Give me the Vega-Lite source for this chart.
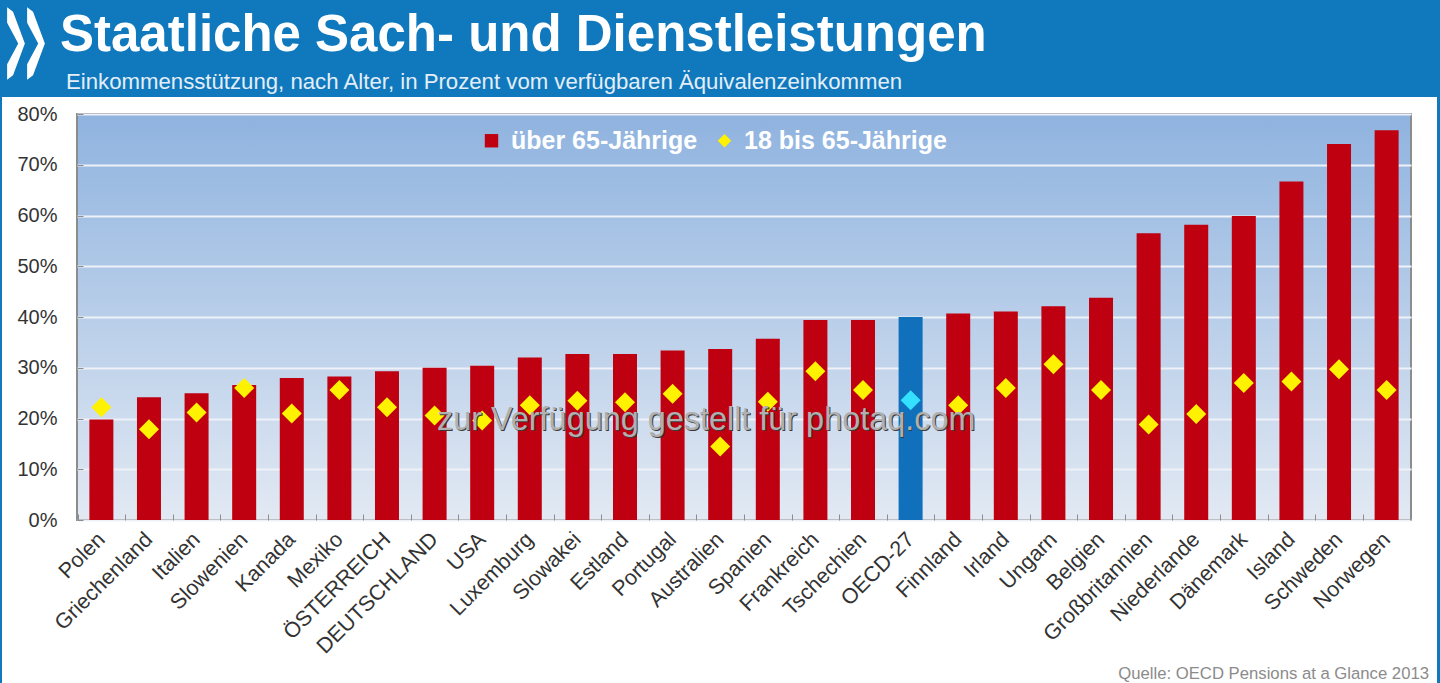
{
  "$schema": "https://vega.github.io/schema/vega-lite/v6.json",
  "padding": 0,
  "background": "white",
  "spacing": 0,
  "bounds": "flush",
  "config": {"font": "Liberation Sans"},
  "datasets": {
    "renten": [
      {"land": "Polen", "gruppe": "über 65-Jährige", "wert": 19.8},
      {"land": "Griechenland", "gruppe": "über 65-Jährige", "wert": 24.2},
      {"land": "Italien", "gruppe": "über 65-Jährige", "wert": 25},
      {"land": "Slowenien", "gruppe": "über 65-Jährige", "wert": 26.6},
      {"land": "Kanada", "gruppe": "über 65-Jährige", "wert": 28},
      {"land": "Mexiko", "gruppe": "über 65-Jährige", "wert": 28.3},
      {"land": "ÖSTERREICH", "gruppe": "über 65-Jährige", "wert": 29.3},
      {"land": "DEUTSCHLAND", "gruppe": "über 65-Jährige", "wert": 30},
      {"land": "USA", "gruppe": "über 65-Jährige", "wert": 30.4},
      {"land": "Luxemburg", "gruppe": "über 65-Jährige", "wert": 32},
      {"land": "Slowakei", "gruppe": "über 65-Jährige", "wert": 32.7},
      {"land": "Estland", "gruppe": "über 65-Jährige", "wert": 32.7},
      {"land": "Portugal", "gruppe": "über 65-Jährige", "wert": 33.4},
      {"land": "Australien", "gruppe": "über 65-Jährige", "wert": 33.7},
      {"land": "Spanien", "gruppe": "über 65-Jährige", "wert": 35.7},
      {"land": "Frankreich", "gruppe": "über 65-Jährige", "wert": 39.4},
      {"land": "Tschechien", "gruppe": "über 65-Jährige", "wert": 39.4},
      {"land": "OECD-27", "gruppe": "über 65-Jährige", "wert": 40},
      {"land": "Finnland", "gruppe": "über 65-Jährige", "wert": 40.7},
      {"land": "Irland", "gruppe": "über 65-Jährige", "wert": 41.1},
      {"land": "Ungarn", "gruppe": "über 65-Jährige", "wert": 42.1},
      {"land": "Belgien", "gruppe": "über 65-Jährige", "wert": 43.8},
      {"land": "Großbritannien", "gruppe": "über 65-Jährige", "wert": 56.5},
      {"land": "Niederlande", "gruppe": "über 65-Jährige", "wert": 58.2},
      {"land": "Dänemark", "gruppe": "über 65-Jährige", "wert": 59.9},
      {"land": "Island", "gruppe": "über 65-Jährige", "wert": 66.7},
      {"land": "Schweden", "gruppe": "über 65-Jährige", "wert": 74.1},
      {"land": "Norwegen", "gruppe": "über 65-Jährige", "wert": 76.8},
      {"land": "Polen", "gruppe": "18 bis 65-Jährige", "wert": 22.2},
      {"land": "Griechenland", "gruppe": "18 bis 65-Jährige", "wert": 17.9},
      {"land": "Italien", "gruppe": "18 bis 65-Jährige", "wert": 21.2},
      {"land": "Slowenien", "gruppe": "18 bis 65-Jährige", "wert": 26},
      {"land": "Kanada", "gruppe": "18 bis 65-Jährige", "wert": 21},
      {"land": "Mexiko", "gruppe": "18 bis 65-Jährige", "wert": 25.6},
      {"land": "ÖSTERREICH", "gruppe": "18 bis 65-Jährige", "wert": 22.2},
      {"land": "DEUTSCHLAND", "gruppe": "18 bis 65-Jährige", "wert": 20.6},
      {"land": "USA", "gruppe": "18 bis 65-Jährige", "wert": 19.6},
      {"land": "Luxemburg", "gruppe": "18 bis 65-Jährige", "wert": 22.6},
      {"land": "Slowakei", "gruppe": "18 bis 65-Jährige", "wert": 23.5},
      {"land": "Estland", "gruppe": "18 bis 65-Jährige", "wert": 23.2},
      {"land": "Portugal", "gruppe": "18 bis 65-Jährige", "wert": 24.9},
      {"land": "Australien", "gruppe": "18 bis 65-Jährige", "wert": 14.5},
      {"land": "Spanien", "gruppe": "18 bis 65-Jährige", "wert": 23.3},
      {"land": "Frankreich", "gruppe": "18 bis 65-Jährige", "wert": 29.3},
      {"land": "Tschechien", "gruppe": "18 bis 65-Jährige", "wert": 25.6},
      {"land": "OECD-27", "gruppe": "18 bis 65-Jährige", "wert": 23.6},
      {"land": "Finnland", "gruppe": "18 bis 65-Jährige", "wert": 22.6},
      {"land": "Irland", "gruppe": "18 bis 65-Jährige", "wert": 26},
      {"land": "Ungarn", "gruppe": "18 bis 65-Jährige", "wert": 30.7},
      {"land": "Belgien", "gruppe": "18 bis 65-Jährige", "wert": 25.6},
      {"land": "Großbritannien", "gruppe": "18 bis 65-Jährige", "wert": 18.8},
      {"land": "Niederlande", "gruppe": "18 bis 65-Jährige", "wert": 20.9},
      {"land": "Dänemark", "gruppe": "18 bis 65-Jährige", "wert": 27},
      {"land": "Island", "gruppe": "18 bis 65-Jährige", "wert": 27.3},
      {"land": "Schweden", "gruppe": "18 bis 65-Jährige", "wert": 29.7},
      {"land": "Norwegen", "gruppe": "18 bis 65-Jährige", "wert": 25.6}
    ]
  },
  "vconcat": [
    {
      "width": 1440,
      "height": 114,
      "view": {"fill": "#1079bd", "stroke": null},
      "data": {"values": [{"logo": 1}]},
      "encoding": {
        "x": {"type": "quantitative", "scale": {"domain": [0, 1440]}, "axis": null},
        "y": {"type": "quantitative", "scale": {"domain": [114, 0]}, "axis": null}
      },
      "layer": [
        {
          "mark": {"type": "rect", "color": "white"},
          "encoding": {
            "x": {"datum": 2},
            "x2": {"datum": 1437},
            "y": {"datum": 97},
            "y2": {"datum": 114}
          }
        },
        {
          "mark": {
            "type": "point",
            "filled": true,
            "opacity": 1,
            "fill": "white",
            "size": 21904,
            "shape": "M -0.12 -0.49 L -0.12 -0.28 L 0.03 0 L -0.12 0.28 L -0.12 0.49 L -0.04 0.43 L 0.12 0 L -0.04 -0.43 Z"
          },
          "encoding": {"x": {"datum": 16}, "y": {"datum": 43.5}}
        },
        {
          "mark": {
            "type": "point",
            "filled": true,
            "opacity": 1,
            "fill": "white",
            "size": 21904,
            "shape": "M -0.12 -0.49 L -0.12 -0.28 L 0.03 0 L -0.12 0.28 L -0.12 0.49 L -0.04 0.43 L 0.12 0 L -0.04 -0.43 Z"
          },
          "encoding": {"x": {"datum": 36}, "y": {"datum": 43.5}}
        },
        {
          "mark": {
            "type": "text",
            "align": "left",
            "baseline": "alphabetic",
            "fontSize": 51,
            "fontWeight": "bold",
            "color": "white",
            "text": "Staatliche Sach- und Dienstleistungen"
          },
          "encoding": {"x": {"datum": 60}, "y": {"datum": 51}}
        },
        {
          "mark": {
            "type": "text",
            "align": "left",
            "baseline": "middle",
            "fontSize": 22.2,
            "color": "#e3eef8",
            "text": "Einkommensstützung, nach Alter, in Prozent vom verfügbaren Äquivalenzeinkommen"
          },
          "encoding": {"x": {"datum": 66}, "y": {"datum": 82}}
        }
      ]
    },
    {
      "spacing": 0,
      "hconcat": [
        {
          "width": 2,
          "height": 569,
          "view": {"fill": "#1079bd", "stroke": null},
          "data": {"values": []},
          "mark": "point"
        },
        {
          "width": 1334,
          "height": 406,
          "view": {
            "stroke": "#8c8c8c",
            "strokeWidth": 2,
            "fill": {
              "gradient": "linear",
              "x1": 0,
              "y1": 0,
              "x2": 0,
              "y2": 1,
              "stops": [
                {"offset": 0, "color": "#8fb3df"},
                {"offset": 1, "color": "#e2e9f3"}
              ]
            }
          },
          "title": {
            "text": "Quelle: OECD Pensions at a Glance 2013",
            "orient": "bottom",
            "anchor": "end",
            "frame": "group",
            "dx": 18,
            "offset": 9,
            "fontSize": 16.7,
            "fontWeight": "normal",
            "color": "#8b8b8b"
          },
          "data": {"name": "renten"},
          "encoding": {
            "x": {
              "field": "land",
              "type": "nominal",
              "sort": null,
              "title": null,
              "scale": {"paddingInner": 0, "paddingOuter": 0.012},
              "axis": {
                "domain": false,
                "tickBand": "extent",
                "tickSize": -6,
                "tickColor": "#8c8c8c",
                "labelAngle": -45,
                "labelAlign": "right",
                "labelBaseline": "middle",
                "labelFontSize": 21.5,
                "labelColor": "#333333",
                "labelPadding": 22,
                "labelOverlap": false,
                "labelBound": false
              }
            },
            "y": {
              "field": "wert",
              "type": "quantitative",
              "title": null,
              "scale": {"domain": [0, 80]},
              "axis": {
                "values": [0, 10, 20, 30, 40, 50, 60, 70, 80],
                "labelExpr": "datum.value + '%'",
                "domain": false,
                "grid": true,
                "gridColor": "#eef2f8",
                "gridWidth": 2,
                "tickSize": -6,
                "tickColor": "#8c8c8c",
                "labelFontSize": 20,
                "labelColor": "#333333",
                "labelPadding": 26,
                "minExtent": 74,
                "maxExtent": 74
              }
            }
          },
          "layer": [
            {
              "transform": [{"filter": "datum.gruppe == 'über 65-Jährige'"}],
              "mark": {"type": "bar", "size": 24},
              "encoding": {
                "fill": {
                  "condition": {"test": "datum.land == 'OECD-27'", "value": "#1070bb"},
                  "value": "#bf0010"
                }
              }
            },
            {
              "mark": {"type": "point", "filled": true, "size": 400},
              "encoding": {
                "shape": {
                  "field": "gruppe",
                  "type": "nominal",
                  "sort": null,
                  "scale": {
                    "domain": ["über 65-Jährige", "18 bis 65-Jährige"],
                    "range": ["square", "diamond"]
                  },
                  "legend": {
                    "title": null,
                    "orient": "none",
                    "legendX": 479,
                    "legendY": 128,
                    "direction": "horizontal",
                    "columns": 2,
                    "columnPadding": 14,
                    "symbolSize": 180,
                    "symbolOpacity": 1,
                    "labelColor": "white",
                    "labelFontSize": 25,
                    "labelFontWeight": "bold",
                    "labelLimit": 400,
                    "labelOffset": 7
                  }
                },
                "color": {
                  "condition": {"test": "datum.land == 'OECD-27'", "value": "#33e0ff"},
                  "field": "gruppe",
                  "type": "nominal",
                  "sort": null,
                  "scale": {
                    "domain": ["über 65-Jährige", "18 bis 65-Jährige"],
                    "range": ["#bf0010", "#fff200"]
                  },
                  "legend": {
                    "title": null,
                    "orient": "none",
                    "legendX": 479,
                    "legendY": 128,
                    "direction": "horizontal",
                    "columns": 2,
                    "columnPadding": 14,
                    "symbolSize": 180,
                    "symbolOpacity": 1,
                    "labelColor": "white",
                    "labelFontSize": 25,
                    "labelFontWeight": "bold",
                    "labelLimit": 400,
                    "labelOffset": 7
                  }
                },
                "opacity": {
                  "condition": {"test": "datum.gruppe == 'über 65-Jährige'", "value": 0},
                  "value": 1
                }
              }
            },
            {
              "data": {"values": [{"land": "Australien", "wert": 19.6, "hinweis": "zur Verfügung gestellt für photaq.com"}]},
              "mark": {"type": "text", "fontSize": 32.4, "dx": -13, "color": "#3a3a3a"},
              "encoding": {"text": {"field": "hinweis"}}
            },
            {
              "data": {"values": [{"land": "Australien", "wert": 19.6, "hinweis": "zur Verfügung gestellt für photaq.com"}]},
              "mark": {"type": "text", "fontSize": 32.4, "dx": -14, "dy": -1, "color": "#b0b0b0"},
              "encoding": {"text": {"field": "hinweis"}}
            }
          ]
        },
        {
          "width": 7,
          "height": 569,
          "view": {"stroke": null},
          "data": {"values": []},
          "mark": "point"
        },
        {
          "width": 3,
          "height": 569,
          "view": {"fill": "#1079bd", "stroke": null},
          "data": {"values": []},
          "mark": "point"
        }
      ]
    }
  ]
}
